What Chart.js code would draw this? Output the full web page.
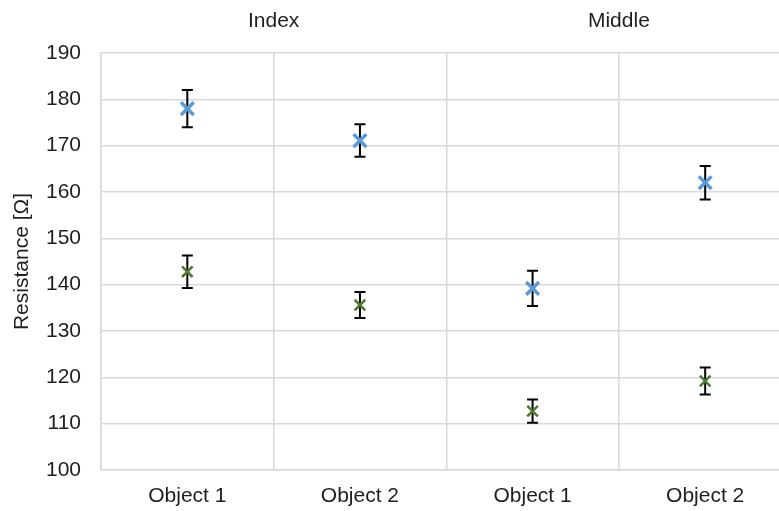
<!DOCTYPE html>
<html>
<head>
<meta charset="utf-8">
<script src="https://cdn.jsdelivr.net/npm/chart.js@4.4.0/dist/chart.umd.min.js"></script>
<style>
    html, body { margin: 0; padding: 0; overflow: hidden; background: #fff; }
    #wrap { position: relative; width: 804px; height: 511px; }
</style>
</head>
<body>
<div id="wrap"><canvas id="chart"></canvas></div>
<script>
// Chart data
const categories = ['Object 1', 'Object 2', 'Object 1', 'Object 2'];
const groups = ['Index', 'Middle'];
const blueValues = [178, 171.1, 139.2, 162];
const blueErrors = [4, 3.5, 3.8, 3.6];
const greenValues = [142.8, 135.6, 112.7, 119.2];
const greenErrors = [3.5, 2.8, 2.5, 2.9];
const yTicks = [100, 110, 120, 130, 140, 150, 160, 170, 180, 190];

const textColor = '#1f1f1f';
const gridColor = '#d9d9d9';
const font = { family: 'Liberation Sans, Arial, sans-serif', size: 21 };

// Draws error bars from each dataset's errors array, underneath the markers
const errorBarPlugin = {
    id: 'errorBars',
    beforeDatasetsDraw(chart) {
        const ctx = chart.ctx;
        const y = chart.scales.y;
        chart.data.datasets.forEach((ds, di) => {
            const meta = chart.getDatasetMeta(di);
            meta.data.forEach((pt, i) => {
                const top = y.getPixelForValue(ds.data[i] + ds.errors[i]);
                const bottom = y.getPixelForValue(ds.data[i] - ds.errors[i]);
                const cap = 5.5;
                ctx.save();
                ctx.strokeStyle = '#000';
                ctx.lineWidth = 2;
                ctx.beginPath();
                ctx.moveTo(pt.x, top);
                ctx.lineTo(pt.x, bottom);
                ctx.moveTo(pt.x - cap, top);
                ctx.lineTo(pt.x + cap, top);
                ctx.moveTo(pt.x - cap, bottom);
                ctx.lineTo(pt.x + cap, bottom);
                ctx.stroke();
                ctx.restore();
            });
        });
    },
};

const chart = new Chart(document.getElementById('chart'), {
    type: 'line',
    data: {
        labels: categories,
        datasets: [
            {
                label: 'Series 1',
                data: blueValues,
                errors: blueErrors,
                showLine: false,
                pointStyle: 'crossRot',
                pointRadius: 9,
                pointBorderWidth: 3.5,
                borderColor: '#5b9bd5',
                backgroundColor: '#5b9bd5',
            },
            {
                label: 'Series 2',
                data: greenValues,
                errors: greenErrors,
                showLine: false,
                pointStyle: 'crossRot',
                pointRadius: 7.5,
                pointBorderWidth: 2.5,
                borderColor: '#4e7a2e',
                backgroundColor: '#4e7a2e',
            },
        ],
    },
    options: {
        responsive: true,
        maintainAspectRatio: false,
        animation: false,
        layout: { padding: { left: 0, right: 5, top: 0, bottom: 0 } },
        plugins: {
            legend: { display: false },
            tooltip: { enabled: false },
        },
        scales: {
            x: {
                type: 'category',
                offset: true,
                grid: { offset: true, color: gridColor, lineWidth: 1.5, drawTicks: false },
                border: { color: gridColor, width: 1.5 },
                ticks: { color: textColor, font: font, padding: 14, maxRotation: 0 },
                afterFit(scale) { scale.height = 41; },
            },
            x2: {
                type: 'category',
                position: 'top',
                labels: groups,
                offset: true,
                grid: { display: false, drawTicks: false },
                border: { display: false },
                ticks: { color: textColor, font: font, padding: 19, maxRotation: 0 },
                afterFit(scale) { scale.height = 53; },
            },
            y: {
                min: 100,
                max: 190,
                afterBuildTicks(scale) { scale.ticks = yTicks.map(v => ({ value: v })); },
                grid: { color: gridColor, lineWidth: 1.5, drawTicks: false },
                border: { color: gridColor, width: 1.5 },
                ticks: { color: textColor, font: font, padding: 20 },
                title: {
                    display: true,
                    text: 'Resistance [Ω]',
                    color: textColor,
                    font: font,
                    padding: { top: 9.5, bottom: 0 },
                },
                afterFit(scale) { scale.width = 101; },
            },
        },
    },
    plugins: [errorBarPlugin],
});
</script>
</body>
</html>
